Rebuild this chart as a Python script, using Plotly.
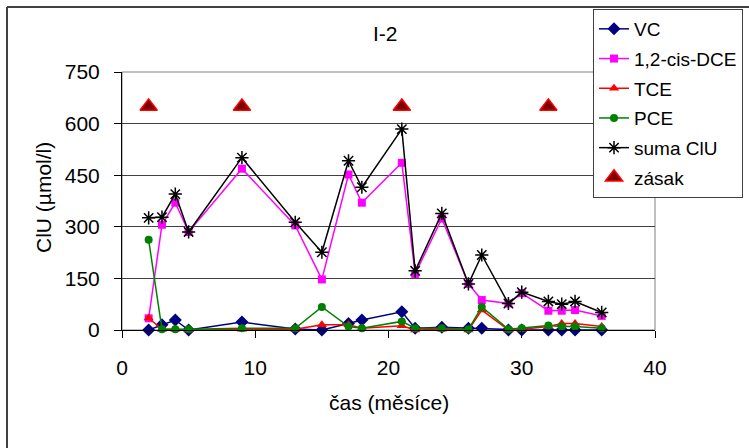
import plotly.graph_objects as go

# ---- data ----
months = [2, 3, 4, 5, 9, 13, 15, 17, 18, 21, 22, 24, 26, 27, 29, 30, 32, 33, 34, 36]
vc = [0, 15, 29, 0, 23, 3, 0, 19, 29, 53, 5, 8, 5, 5, 0, 0, 0, 0, 0, 0]
dce = [34, 306, 370, 285, 469, 304, 147, 452, 370, 486, 163, 324, 134, 87, 77, 107, 56, 56, 58, 41]
tce = [35, 2, 2, 0, 2, 2, 15, 15, 5, 12, 0, 2, 0, 58, 0, 2, 10, 19, 19, 10]
pce = [262, 2, 2, 2, 5, 5, 67, 10, 5, 25, 5, 5, 2, 67, 2, 5, 13, 10, 10, 5]
suma = [326, 328, 395, 285, 501, 313, 226, 492, 415, 584, 172, 339, 134, 218, 77, 110, 83, 75, 83, 51]
zasak_t = [2, 9, 21, 32]
zasak_v = [650, 650, 650, 650]

x_ticks = [0, 10, 20, 30, 40]
y_ticks = [0, 150, 300, 450, 600, 750]

FONT = "Arial, 'Liberation Sans', sans-serif"

# plot-area pixel geometry
L, R, T, B = 122, 655, 72, 330
W, H = 749, 448


def px(xp):
    return (xp - L) / (R - L)


def py(yp):
    return (B - yp) / (B - T)


fig = go.Figure()

series = [
    ("VC", vc, "#000080", "diamond", 10),
    ("1,2-cis-DCE", dce, "#FF00FF", "square", 8),
    ("TCE", tce, "#FF0000", "triangle-up", 9),
    ("PCE", pce, "#008000", "circle", 8),
]
for name, vals, col, sym, size in series:
    fig.add_trace(go.Scatter(
        x=months, y=vals, name=name, mode="lines+markers",
        line=dict(color=col, width=1.5),
        marker=dict(symbol=sym, color=col, size=size, line=dict(width=0)),
        cliponaxis=False, legendgroup=name,
    ))

fig.add_trace(go.Scatter(
    x=months, y=suma, name="suma ClU", mode="lines+markers",
    line=dict(color="#000000", width=1.5),
    marker=dict(symbol="asterisk-open", color="#000000", size=11,
                line=dict(color="#000000", width=1.5)),
    cliponaxis=False, legendgroup="suma",
))

fig.add_trace(go.Scatter(
    x=zasak_t, y=zasak_v, name="zásak", mode="markers",
    marker=dict(symbol="triangle-up", color="#800000", size=15,
                line=dict(color="#FF0000", width=1.5)),
    cliponaxis=False, legendgroup="zasak",
))

fig.update_layout(
    width=W, height=H,
    margin=dict(l=L, r=W - R, t=T, b=H - B, pad=0, autoexpand=False),
    paper_bgcolor="white", plot_bgcolor="white",
    font=dict(family=FONT, size=21, color="#000000"),
    showlegend=True,
    legend=dict(
        xref="container", yref="container",
        x=593 / W, y=1 - 9 / H, xanchor="left", yanchor="top",
        bgcolor="white", bordercolor="#404040", borderwidth=1,
        font=dict(family=FONT, size=19, color="#000000"),
        tracegroupgap=2, traceorder="grouped",
    ),
    xaxis=dict(
        range=[0, 40], tickvals=x_ticks, ticktext=[str(v) for v in x_ticks],
        showgrid=False, zeroline=False,
        showline=True, linecolor="#000000", linewidth=1,
        ticks="outside", ticklen=7, tickcolor="#000000", tickwidth=1,
        ticklabelstandoff=12,
        tickfont=dict(family=FONT, size=21),
    ),
    yaxis=dict(
        range=[0, 750], tickvals=y_ticks, ticktext=[str(v) for v in y_ticks],
        showgrid=True, gridcolor="#404040", gridwidth=1, zeroline=False,
        showline=True, linecolor="#000000", linewidth=1,
        ticks="outside", ticklen=7, tickcolor="#000000", tickwidth=1,
        ticklabelstandoff=10,
        tickfont=dict(family=FONT, size=21),
    ),
    shapes=[
        # plot area border (grey)
        dict(type="rect", xref="paper", yref="paper", x0=0, x1=1, y0=0, y1=1,
             line=dict(color="#808080", width=1), layer="below"),
        # outer chart frame (left and top edges visible)
        dict(type="line", xref="paper", yref="paper",
             x0=px(7), x1=px(7), y0=py(460), y1=py(7),
             line=dict(color="#404040", width=2)),
        dict(type="line", xref="paper", yref="paper",
             x0=px(7), x1=px(760), y0=py(7), y1=py(7),
             line=dict(color="#404040", width=2)),
    ],
    annotations=[
        dict(text="I-2", xref="paper", yref="paper", x=px(385), y=py(34),
             showarrow=False, font=dict(family=FONT, size=21),
             xanchor="center", yanchor="middle"),
        dict(text="čas (měsíce)", xref="paper", yref="paper", x=px(389), y=py(402),
             showarrow=False, font=dict(family=FONT, size=21),
             xanchor="center", yanchor="middle"),
        dict(text="ClU (µmol/l)", xref="paper", yref="paper", x=px(43), y=py(198),
             showarrow=False, textangle=-90, font=dict(family=FONT, size=21),
             xanchor="center", yanchor="middle"),
    ],
)

fig.write_html("out.html")
